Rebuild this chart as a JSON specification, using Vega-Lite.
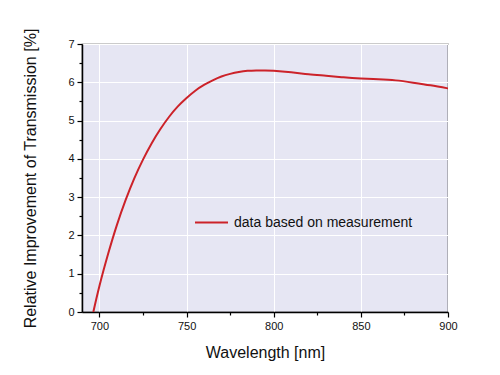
{
  "$schema": "https://vega.github.io/schema/vega-lite/v6.json",
  "autosize": "none",
  "width": 366,
  "height": 268,
  "padding": {"left": 82, "top": 44, "right": 52, "bottom": 63},
  "background": "white",
  "config": {
    "view": {"fill": "#e6e6f3", "stroke": "#333333", "strokeWidth": 1.2},
    "font": "Liberation Sans",
    "axis": {
      "labelFont": "Liberation Sans",
      "titleFont": "Liberation Sans",
      "labelColor": "#111111",
      "titleColor": "#111111",
      "labelFontSize": 11,
      "titleFontSize": 16,
      "titleFontWeight": "normal",
      "domainColor": "#000000",
      "domainWidth": 1.5,
      "tickColor": "#000000",
      "tickWidth": 1.2,
      "gridColor": "#ffffff",
      "gridWidth": 1
    }
  },
  "data": {
    "values": [
      {"wl": 696.5, "v": 0, "series": "data based on measurement"},
      {"wl": 700, "v": 0.68, "series": "data based on measurement"},
      {"wl": 705, "v": 1.52, "series": "data based on measurement"},
      {"wl": 710, "v": 2.27, "series": "data based on measurement"},
      {"wl": 715, "v": 2.92, "series": "data based on measurement"},
      {"wl": 720, "v": 3.49, "series": "data based on measurement"},
      {"wl": 725, "v": 3.98, "series": "data based on measurement"},
      {"wl": 730, "v": 4.41, "series": "data based on measurement"},
      {"wl": 735, "v": 4.78, "series": "data based on measurement"},
      {"wl": 740, "v": 5.1, "series": "data based on measurement"},
      {"wl": 745, "v": 5.37, "series": "data based on measurement"},
      {"wl": 750, "v": 5.59, "series": "data based on measurement"},
      {"wl": 755, "v": 5.78, "series": "data based on measurement"},
      {"wl": 760, "v": 5.93, "series": "data based on measurement"},
      {"wl": 765, "v": 6.05, "series": "data based on measurement"},
      {"wl": 770, "v": 6.15, "series": "data based on measurement"},
      {"wl": 775, "v": 6.22, "series": "data based on measurement"},
      {"wl": 780, "v": 6.27, "series": "data based on measurement"},
      {"wl": 785, "v": 6.3, "series": "data based on measurement"},
      {"wl": 790, "v": 6.31, "series": "data based on measurement"},
      {"wl": 795, "v": 6.31, "series": "data based on measurement"},
      {"wl": 800, "v": 6.3, "series": "data based on measurement"},
      {"wl": 810, "v": 6.26, "series": "data based on measurement"},
      {"wl": 820, "v": 6.21, "series": "data based on measurement"},
      {"wl": 830, "v": 6.17, "series": "data based on measurement"},
      {"wl": 840, "v": 6.13, "series": "data based on measurement"},
      {"wl": 850, "v": 6.1, "series": "data based on measurement"},
      {"wl": 860, "v": 6.08, "series": "data based on measurement"},
      {"wl": 870, "v": 6.05, "series": "data based on measurement"},
      {"wl": 880, "v": 5.99, "series": "data based on measurement"},
      {"wl": 890, "v": 5.92, "series": "data based on measurement"},
      {"wl": 900, "v": 5.84, "series": "data based on measurement"}
    ]
  },
  "mark": {"type": "line", "interpolate": "natural", "strokeWidth": 2, "clip": true},
  "encoding": {
    "x": {
      "field": "wl",
      "type": "quantitative",
      "scale": {"domain": [690, 900], "nice": false, "zero": false},
      "axis": {
        "title": "Wavelength [nm]",
        "values": [700, 725, 750, 775, 800, 825, 850, 875, 900],
        "labelExpr": "datum.value % 50 === 0 ? datum.label : ''",
        "tickSize": {"condition": {"test": "datum.value % 50 === 0", "value": 5}, "value": 3},
        "gridOpacity": {"condition": {"test": "datum.value % 50 === 0", "value": 1}, "value": 0},
        "labelPadding": 3,
        "titlePadding": 13,
        "labelFlush": false
      }
    },
    "y": {
      "field": "v",
      "type": "quantitative",
      "scale": {"domain": [0, 7], "nice": false},
      "axis": {
        "title": "Relative Improvement of Transmission [%]",
        "values": [0, 0.5, 1, 1.5, 2, 2.5, 3, 3.5, 4, 4.5, 5, 5.5, 6, 6.5, 7],
        "labelExpr": "datum.value % 1 === 0 ? format(datum.value, 'd') : ''",
        "tickSize": {"condition": {"test": "datum.value % 1 === 0", "value": 5}, "value": 3},
        "gridOpacity": {"condition": {"test": "datum.value % 1 === 0", "value": 1}, "value": 0},
        "labelPadding": 3,
        "titlePadding": 29,
        "labelFlush": false
      }
    },
    "color": {
      "field": "series",
      "type": "nominal",
      "scale": {"range": ["#cc2229"]},
      "legend": {
        "title": null,
        "orient": "none",
        "legendX": 112,
        "legendY": 161,
        "symbolType": "stroke",
        "symbolSize": 1089,
        "symbolStrokeWidth": 2,
        "labelFont": "Liberation Sans",
        "labelFontSize": 14,
        "labelColor": "#111111",
        "labelOffset": 5,
        "labelLimit": 400,
        "padding": 0
      }
    }
  }
}
